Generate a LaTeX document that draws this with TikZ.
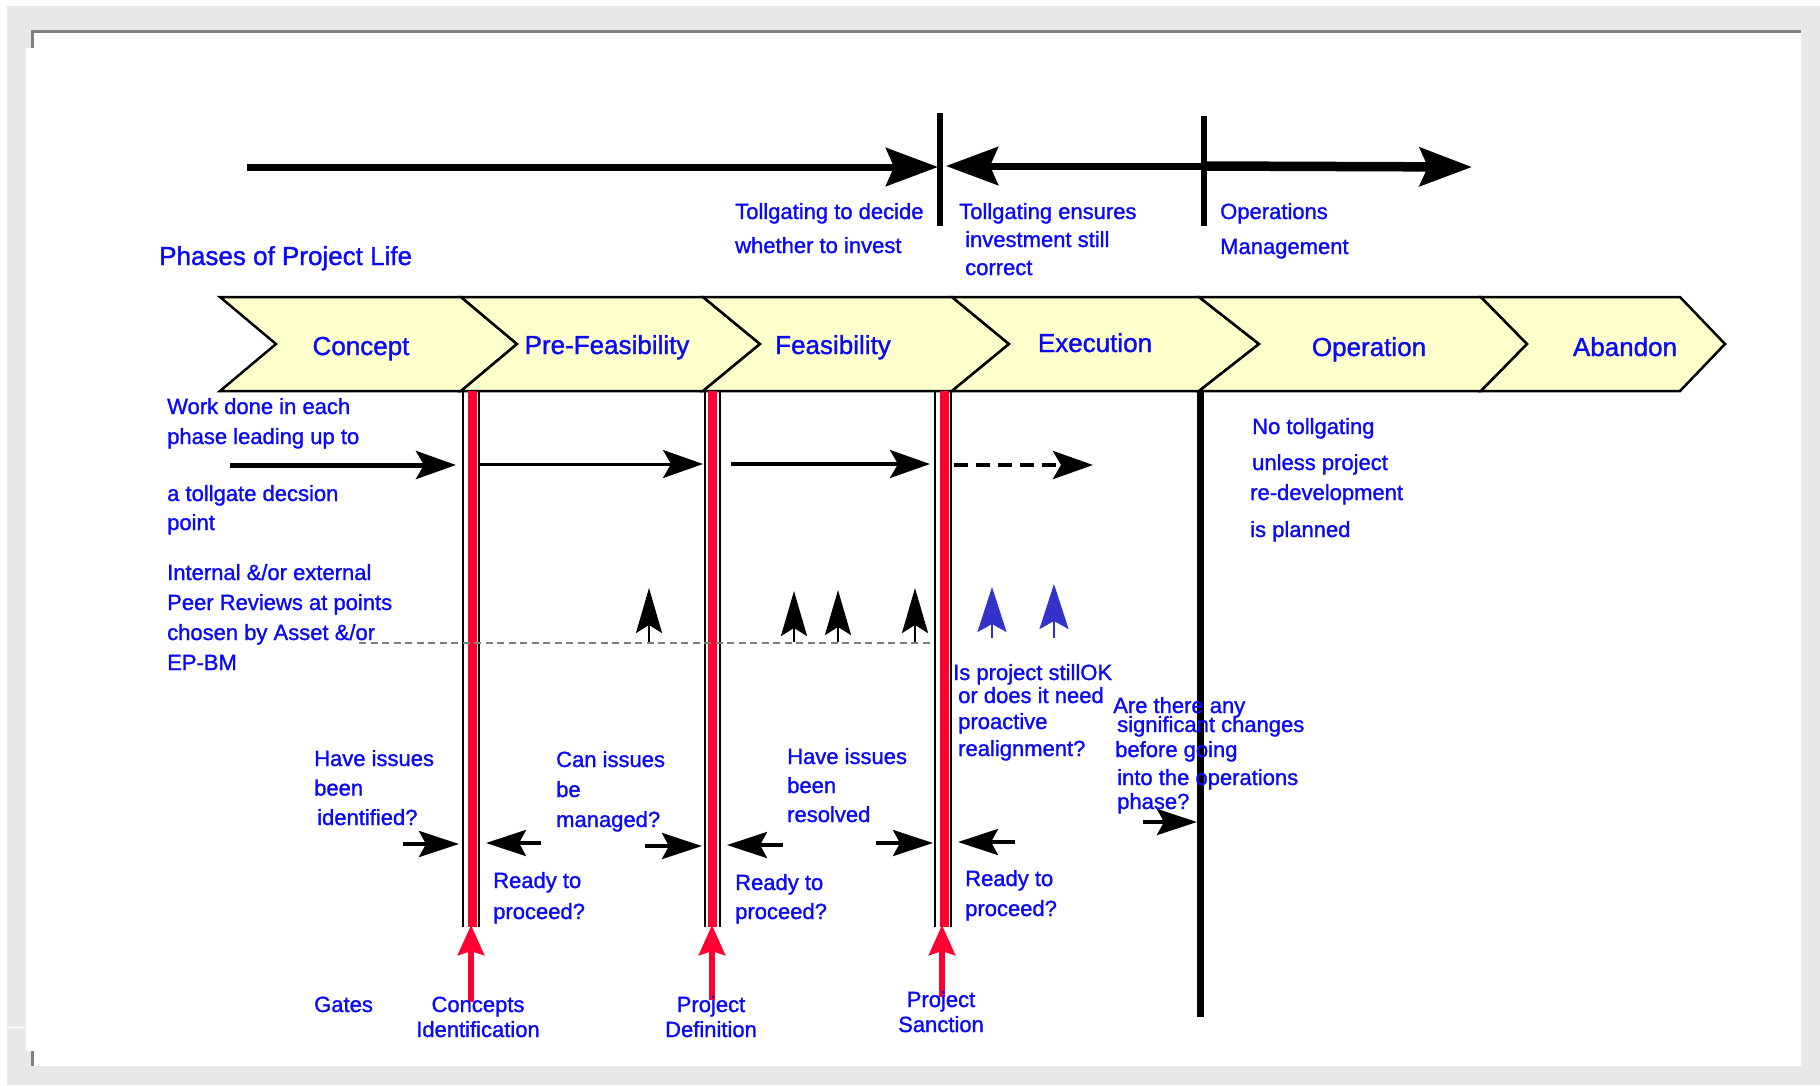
\documentclass[tikz,border=0pt]{standalone}
\usepackage{fontspec}
\setmainfont{Liberation Sans}[FakeBold=1.3]
\usetikzlibrary{arrows.meta,positioning}

\definecolor{panelgrey}{RGB}{232,232,232}
\definecolor{rimgrey}{RGB}{127,127,127}
\definecolor{phasefill}{RGB}{255,255,204}
\definecolor{gatered}{RGB}{255,0,51}
\definecolor{peerblue}{RGB}{51,51,204}
\definecolor{txtblue}{RGB}{10,10,245}

\tikzset{
  lbl/.style={text=txtblue, font=\fontsize{22}{#1}\selectfont, inner sep=0pt,
    align=left, anchor=base west},
  lbl/.default=30,
  phase/.style={text=txtblue, font=\fontsize{26}{30}\selectfont, inner sep=0pt,
    anchor=base},
  bigarrow/.style={line width=7pt, -{Stealth[length=52pt,width=38pt,inset=8pt]}},
  workarrow/.style={line width=3pt, -{Stealth[length=40pt,width=28pt,inset=8pt]}},
  askarrow/.style={line width=4pt, -{Stealth[length=40pt,width=26pt,inset=7pt]}},
  peerarrow/.style={line width=2.5pt, -{Stealth[length=45pt,width=26pt,inset=8pt]}},
  gatearrow/.style={gatered, line width=6pt, -{Stealth[length=30pt,width=26pt,inset=4pt]}}
}

\begin{document}
\begin{tikzpicture}[x=1pt,y=-1pt]
  % Rahmen
  \useasboundingbox (0,0) rectangle (1820,1085);
  \fill[white] (0,0) rectangle (1820,1085);
  \fill[panelgrey] (7,6) rectangle (1820,1085);
  \fill[white] (26,48) -- (34,48) -- (34,33) -- (1801,33) -- (1801,1066)
    -- (34,1066) -- (34,1051) -- (26,1051) -- cycle;
  \fill[rimgrey] (31,30) rectangle (1801,33);
  \fill[rimgrey] (31,30) rectangle (34,48);
  \fill[rimgrey] (31,1051) rectangle (34,1066);
  \draw[white, line width=1pt] (7,1027) -- (26,1027);

  % Koordinaten der oberen Pfeile
  \coordinate (S) at (247,167);
  \coordinate (I) at (938,167);
  \coordinate (C) at (946,166);
  \coordinate (M) at (1204,166);
  \coordinate (E) at (1472,167);

  % Pfeile: investieren / Kontrolle / Betrieb
  \draw[line width=5.5pt] (940,113) -- (940,226);
  \draw[line width=5.5pt] (1204,116) -- (1204,226);
  \draw[bigarrow] (S) -- (I);
  \draw[bigarrow] (M) -- (C);
  \draw[bigarrow, line width=9.5pt] (M) -- (E);

  % (base = Grundlinie der letzten Zeile)
  \node[lbl=34] (tdecide) at (735,253) {Tollgating to decide\\whether to invest};
  \node[lbl=28] (tensure) at (959,275) {Tollgating ensures\\\hspace{6pt}investment still\\\hspace{6pt}correct};
  \node[lbl=35] (opsmgmt) at (1220,254) {Operations\\Management};
  \node[lbl, font=\fontsize{26}{30}\selectfont] (title) at (159,265) {Phases of Project Life};

  % Phasen (Pfeilband)
  \foreach \xa/\da/\xb/\db in {220/56/461/56, 461/56/703/57, 703/57/952/57,
      952/57/1199/60, 1199/60/1481/46, 1481/46/1680/45}{
    \filldraw[fill=phasefill, line width=2.5pt] (\xa,297) -- (\xb,297)
      -- ({\xb+\db},344) -- (\xb,391) -- (\xa,391) -- ({\xa+\da},344) -- cycle;
  }
  \foreach \cx/\by/\txt in {361/355/Concept, 607/354/Pre-Feasibility,
      833/354/Feasibility, 1095/352/Execution, 1369/356/Operation,
      1625/356/Abandon}{
    \node[phase] (ph-\txt) at (\cx,\by) {\txt};
  }

  % Tore (doppelte Linie mit rotem Balken)
  \foreach \xl/\xr/\xa/\xb in {463/479/467.5/477, 705/720/708/717, 935/951/940/949}{
    \fill[gatered] (\xa,391) rectangle (\xb,927);
    \draw[line width=1.5pt] (\xl,391) -- (\xl,927);
    \draw[line width=1.5pt] (\xr,391) -- (\xr,927);
  }
  % Betriebslinie
  \draw[line width=7pt] (1200,391) -- (1200,1017);

  % Arbeit bis zum Tor
  \coordinate (W0) at (230,465);
  \coordinate (W1) at (456,465);
  \coordinate (W2) at (479,464);
  \coordinate (W3) at (703,464);
  \coordinate (W4) at (731,464);
  \coordinate (W5) at (930,464);
  \coordinate (W6) at (954,465);
  \coordinate (W7) at (1093,465);
  \draw[workarrow, line width=5pt] (W0) -- (W1);
  \draw[workarrow] (W2) -- (W3);
  \draw[workarrow, line width=3.5pt] (W4) -- (W5);
  \draw[workarrow, line width=4.5pt, dash pattern=on 14pt off 8pt] (W6) -- (W7);

  \node[lbl=30] (workdone) at (167,444) {Work done in each\\phase leading up to};
  \node[lbl=29] (tolldec) at (167,530) {a tollgate decsion\\point};
  \node[lbl=30] (peer) at (167,670) {Internal \&/or external\\Peer Reviews at points\\chosen by Asset \&/or\\EP-BM};
  \node[lbl=34] (notoll) at (1252,537) {No tollgating\\[2pt]unless project\\[-4pt]\hspace{-2pt}re-development\\[3pt]\hspace{-2pt}is planned};

  % Peer Reviews
  \draw[rimgrey, line width=2pt, dash pattern=on 7pt off 4.5pt] (359,643) -- (930,643);
  \foreach \px/\tip in {649/588, 794/591, 838/590, 915/588}{
    \draw[peerarrow] (\px,642) -- (\px,\tip);
  }
  \foreach \px/\tip in {992/587, 1054/584}{
    \draw[peerarrow, peerblue, -{Stealth[length=45pt,width=29pt,inset=8pt]}] (\px,638) -- (\px,\tip);
  }

  % Fragen an den Toren
  \foreach \xa/\xb/\yy in {403/459/844, 541/486/843, 645/702/846, 783/727/845,
      876/933/843, 1015/958/842, 1143/1197/822}{
    \draw[askarrow] (\xa,\yy) -- (\xb,\yy);
  }
  \node[lbl=29.5] (issuesA) at (314,825) {Have issues\\been\\\hspace{3pt}identified?};
  \node[lbl=30] (issuesB) at (556,827) {Can issues\\be\\managed?};
  \node[lbl=29] (issuesC) at (787,822) {Have issues\\been\\resolved};
  \node[lbl=25] (stillok) at (953,756) {Is project stillOK\\[-2pt]\hspace{5pt}or does it need\\[1pt]\hspace{5pt}proactive\\[2pt]\hspace{5pt}realignment?};
  \node[lbl=24] (changes) at (1113,809) {Are there any\\[-5pt]\hspace{4pt}significant changes\\[1pt]\hspace{2pt}before going\\[4pt]\hspace{4pt}into the operations\\\hspace{4pt}phase?};
  \node[lbl=31] (readyA) at (493,919) {Ready to\\proceed?};
  \node[lbl=29] (readyB) at (735,919) {Ready to\\proceed?};
  \node[lbl=30] (readyC) at (965,916) {Ready to\\proceed?};

  % Tore unten
  \coordinate (CI) at (471,1002);
  \coordinate (CIt) at (471,925);
  \coordinate (PD) at (712,1000);
  \coordinate (PDt) at (712,925);
  \coordinate (PS) at (942,997);
  \coordinate (PSt) at (942,925);
  \draw[gatearrow] (CI) -- (CIt);
  \draw[gatearrow] (PD) -- (PDt);
  \draw[gatearrow] (PS) -- (PSt);

  \node[lbl] (gates) at (314,1012) {Gates};
  \node[lbl=25, align=center, anchor=base] (concid) at (478,1037) {Concepts\\Identification};
  \node[lbl=25, align=center, anchor=base] (projdef) at (711,1037) {Project\\Definition};
  \node[lbl=25, align=center, anchor=base] (projsan) at (941,1032) {Project\\Sanction};
\end{tikzpicture}
\end{document}
